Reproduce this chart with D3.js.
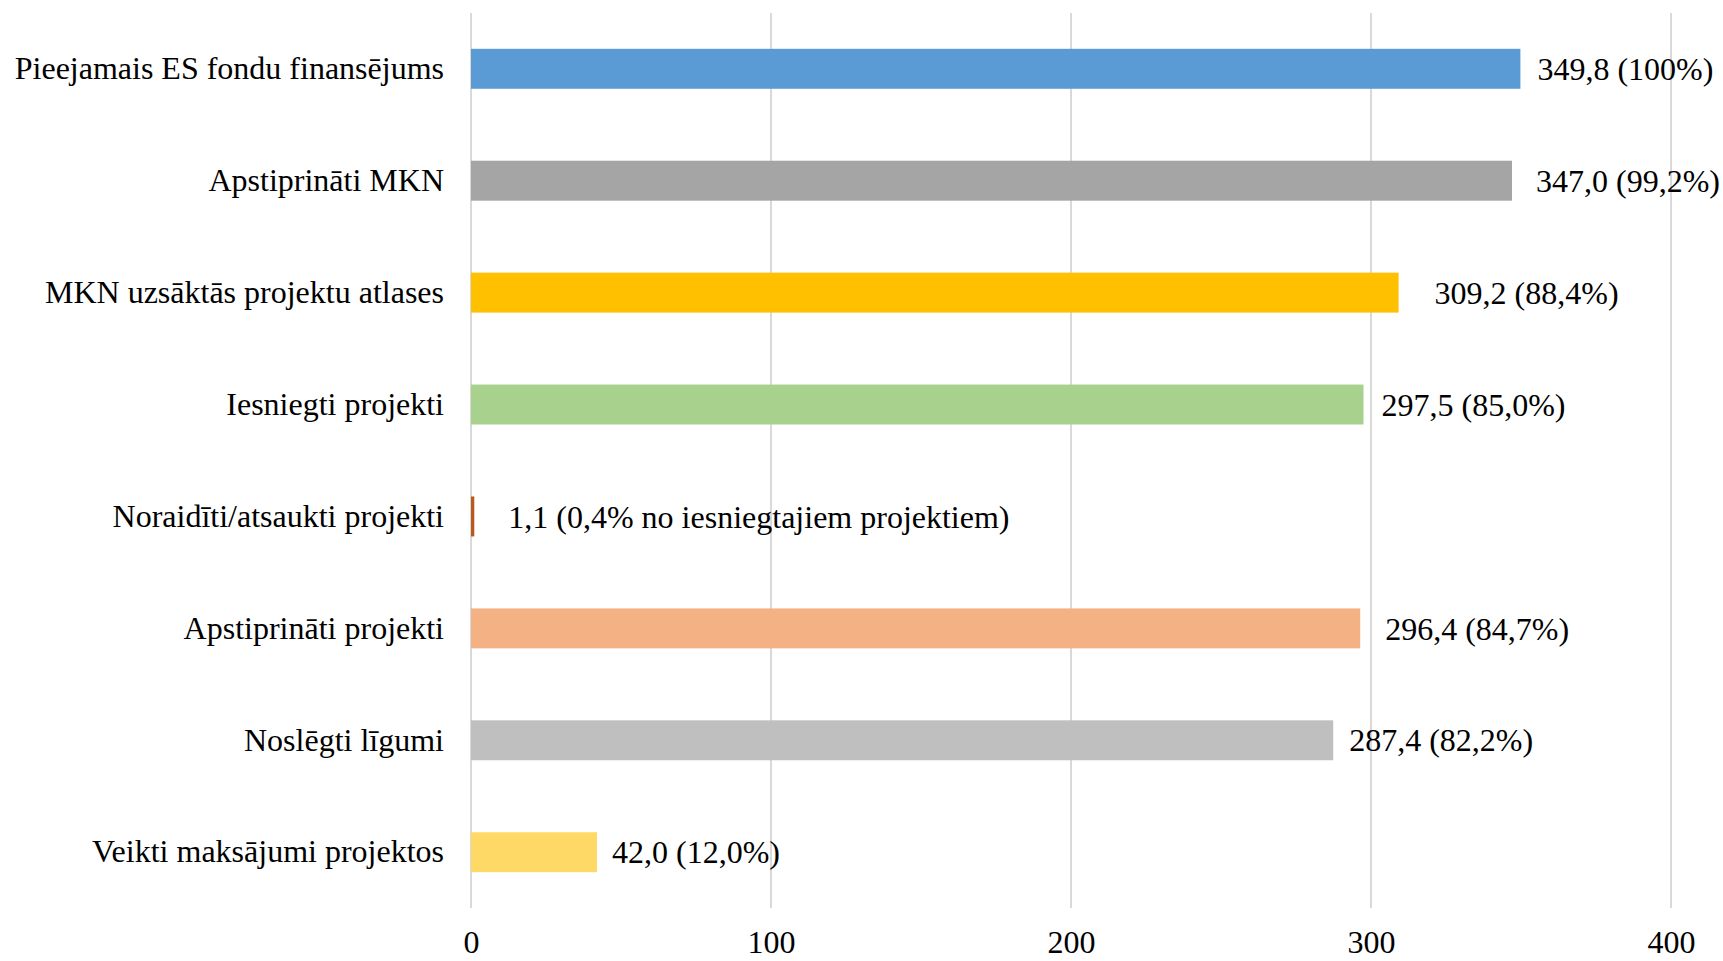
<!DOCTYPE html>
<html>
<head>
<meta charset="utf-8">
<script src="https://cdn.jsdelivr.net/npm/d3@7"></script>
<style>
  body { margin: 0; background: #fff; }
  text { font-family: "Liberation Serif", "Times New Roman", serif; fill: #000; }
</style>
</head>
<body>
<div id="chart"></div>
<script>
// Data
var categories = [
    "Pieejamais ES fondu finansējums",
    "Apstiprināti MKN",
    "MKN uzsāktās projektu atlases",
    "Iesniegti projekti",
    "Noraidīti/atsaukti projekti",
    "Apstiprināti projekti",
    "Noslēgti līgumi",
    "Veikti maksājumi projektos"
];
var values = [349.8, 347.0, 309.2, 297.5, 1.1, 296.4, 287.4, 42.0];
var valueLabels = [
    "349,8 (100%)",
    "347,0 (99,2%)",
    "309,2 (88,4%)",
    "297,5 (85,0%)",
    "1,1 (0,4% no iesniegtajiem projektiem)",
    "296,4 (84,7%)",
    "287,4 (82,2%)",
    "42,0 (12,0%)"
];
var xTicks = [0, 100, 200, 300, 400];

// Styling
var colors = ["#5B9BD5", "#A5A5A5", "#FFC000", "#A9D18E", "#B85A1E", "#F4B183", "#BFBFBF", "#FFD966"];
var labelGaps = [17, 24, 36, 18, 34, 25, 16, 15];

function drawChart() {
    var width = 1723,
        height = 961,
        margin = {top: 13, right: 53, bottom: 53, left: 471};

    var innerWidth = width - margin.left - margin.right,
        innerHeight = height - margin.top - margin.bottom;

    var svg = d3.select("#chart").append("svg")
        .attr("width", width)
        .attr("height", height)
        .append("g")
        .attr("transform", "translate(" + margin.left + "," + margin.top + ")");

    var xScale = d3.scaleLinear()
        .domain([0, 400])
        .range([0, 1200]);

    var yScale = d3.scaleBand()
        .domain(categories)
        .range([0, innerHeight])
        .paddingInner(0.643)
        .paddingOuter(0.32);

    // Gridlines
    svg.selectAll(".grid")
        .data(xTicks)
        .enter().append("line")
        .attr("x1", function(d) { return xScale(d); })
        .attr("x2", function(d) { return xScale(d); })
        .attr("y1", 0)
        .attr("y2", innerHeight)
        .attr("stroke", "#D9D9D9")
        .attr("stroke-width", 2);

    // Bars
    svg.selectAll(".bar")
        .data(values)
        .enter().append("rect")
        .attr("x", xScale(0))
        .attr("y", function(d, i) { return yScale(categories[i]); })
        .attr("width", function(d) { return xScale(d) - xScale(0); })
        .attr("height", yScale.bandwidth())
        .attr("fill", function(d, i) { return colors[i]; });

    // Value labels
    svg.selectAll(".val")
        .data(values)
        .enter().append("text")
        .attr("x", function(d, i) { return xScale(d) + labelGaps[i]; })
        .attr("y", function(d, i) { return yScale(categories[i]) + yScale.bandwidth() / 2; })
        .attr("dy", "0.35em")
        .style("font-size", "32px")
        .text(function(d, i) { return valueLabels[i]; });

    // Y axis (category labels)
    var yAxis = svg.append("g")
        .call(d3.axisLeft(yScale).tickSize(0).tickPadding(27));
    yAxis.select(".domain").remove();
    yAxis.selectAll("text")
        .style("font-size", "32px")
        .style("font-family", "'Liberation Serif', 'Times New Roman', serif");

    // X axis
    var xAxis = svg.append("g")
        .attr("transform", "translate(0," + innerHeight + ")")
        .call(d3.axisBottom(xScale).tickValues(xTicks).tickSize(0).tickPadding(22));
    xAxis.select(".domain").remove();
    xAxis.selectAll("text")
        .style("font-size", "32px")
        .style("font-family", "'Liberation Serif', 'Times New Roman', serif");
}

drawChart();
</script>
</body>
</html>
